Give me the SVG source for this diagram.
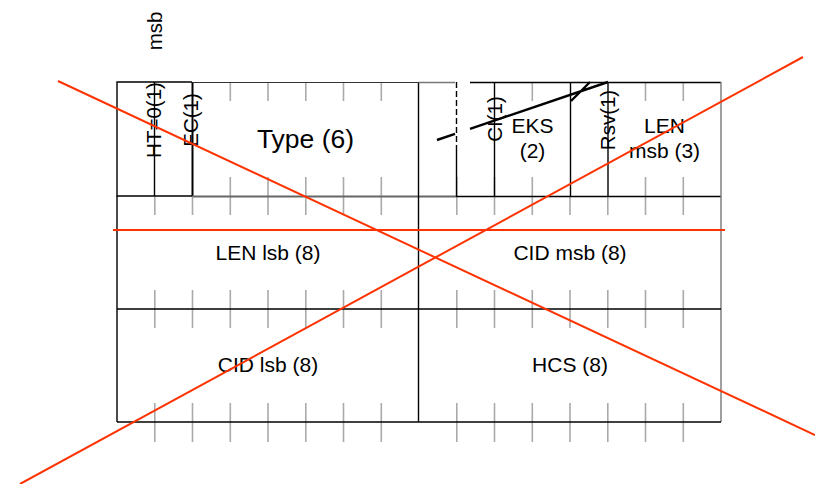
<svg xmlns="http://www.w3.org/2000/svg" width="815" height="484" viewBox="0 0 815 484">
<style>
.bg{fill:#fff}
.frame{fill:none;stroke:#000;stroke-width:1.4}
.grey{fill:none;stroke:#777;stroke-width:1.4}
.tick{fill:none;stroke:#aaa;stroke-width:1.6}
.t{font-family:"Liberation Sans",Arial,sans-serif;font-size:21px;fill:#000;text-anchor:middle}
.rot{font-size:20.5px}
.big{font-size:26.5px}
.red{fill:none;stroke:#ff3300;stroke-width:2}
.blk{fill:none;stroke:#000;stroke-width:2.4}
</style>
<rect class="bg" x="0" y="0" width="815" height="484"/>

<g id="ticks">
<path class="tick" d="M230.3,83V101 M268,83V101 M305.8,83V101 M343.5,83V101 M381.3,83V101 M532.3,83V101 M645.5,83V101 M683.3,83V101
M230.3,177V196 M268,177V196 M305.8,177V196 M343.5,177V196 M381.3,177V196 M456.8,177V196 M494.5,177V196 M532.3,177V196 M645.5,177V196 M683.3,177V196
M154.8,196V215 M192.5,196V215 M230.3,196V215 M268,196V215 M305.8,196V215 M343.5,196V215 M381.3,196V215 M456.8,196V215 M494.5,196V215 M532.3,196V215 M570,196V215 M607.8,196V215 M645.5,196V215 M683.3,196V215
M154.8,290V328 M192.5,290V328 M230.3,290V328 M268,290V328 M305.8,290V328 M343.5,290V328 M381.3,290V328 M456.8,290V328 M494.5,290V328 M532.3,290V328 M570,290V328 M607.8,290V328 M645.5,290V328 M683.3,290V328
M154.8,403V442 M192.5,403V442 M230.3,403V442 M268,403V442 M305.8,403V442 M343.5,403V442 M381.3,403V442 M456.8,403V442 M494.5,403V442 M532.3,403V442 M570,403V442 M607.8,403V442 M645.5,403V442 M683.3,403V442"/>
</g>

<g id="msb-label">
<text class="t rot" transform="translate(162,31) rotate(-90)">msb</text>
</g>

<g id="ht">
<path class="frame" d="M192,82H117V196H192 M154.5,82V196"/>
<text class="t rot" transform="translate(160.5,120) rotate(-90)">HT=0(1)</text>
</g>

<g id="ec">
<path class="frame" d="M192.5,82V196" style="stroke-width:2"/>
<text class="t rot" transform="translate(198,120) rotate(-90)">EC(1)</text>
</g>

<g id="type">
<path class="frame" d="M192.5,82.5H419" style="stroke:#333;stroke-width:1.2"/>
<path class="frame" d="M192.5,196.5H456" style="stroke:#666;stroke-width:2"/>
<text class="t big" x="305.5" y="148">Type (6)</text>
</g>

<g id="hidden-field">
<path class="frame" d="M418.5,82V196"/>
<path class="grey" d="M418.5,82.5H455"/>
<path class="frame" d="M456.5,82V146" style="stroke-dasharray:6 3"/>
<path class="frame" d="M456.5,146V196"/>
<path class="frame" d="M456,196.5H721"/>
</g>

<g id="ci">
<path class="frame" d="M470,82.5H721 M494.5,82V196"/>
<text class="t rot" transform="translate(501.5,119) rotate(-90)">CI(1)</text>
</g>

<g id="eks">
<path class="frame" d="M570.5,82V196"/>
<text class="t" x="532.5" y="132.5">EKS</text>
<text class="t" x="532.5" y="157.5">(2)</text>
</g>

<g id="rsv">
<path class="frame" d="M608,82V196"/>
<text class="t rot" transform="translate(615,120) rotate(-90)">Rsv(1)</text>
</g>

<g id="len-msb">
<path class="grey" d="M721,82V422"/>
<text class="t" x="664.5" y="133">LEN</text>
<text class="t" x="664.5" y="158">msb (3)</text>
</g>

<g id="len-lsb">
<path class="frame" d="M117,196V422 M117,309H721 M418.5,196V422"/>
<text class="t" x="268" y="259.5">LEN lsb (8)</text>
</g>

<g id="cid-msb">
<text class="t" x="570" y="259.5">CID msb (8)</text>
</g>

<g id="cid-lsb">
<path class="frame" d="M117,422H721"/>
<text class="t" x="268" y="372">CID lsb (8)</text>
</g>

<g id="hcs">
<text class="t" x="570" y="372">HCS (8)</text>
</g>

<g id="connectors">
<path class="blk" d="M437,140L455,133.9 M470,128.8L608,82 M571,101L590,82"/>
<path class="red" d="M58,81L815,435 M20,484L803,57 M113,230H725"/>
</g>
</svg>
